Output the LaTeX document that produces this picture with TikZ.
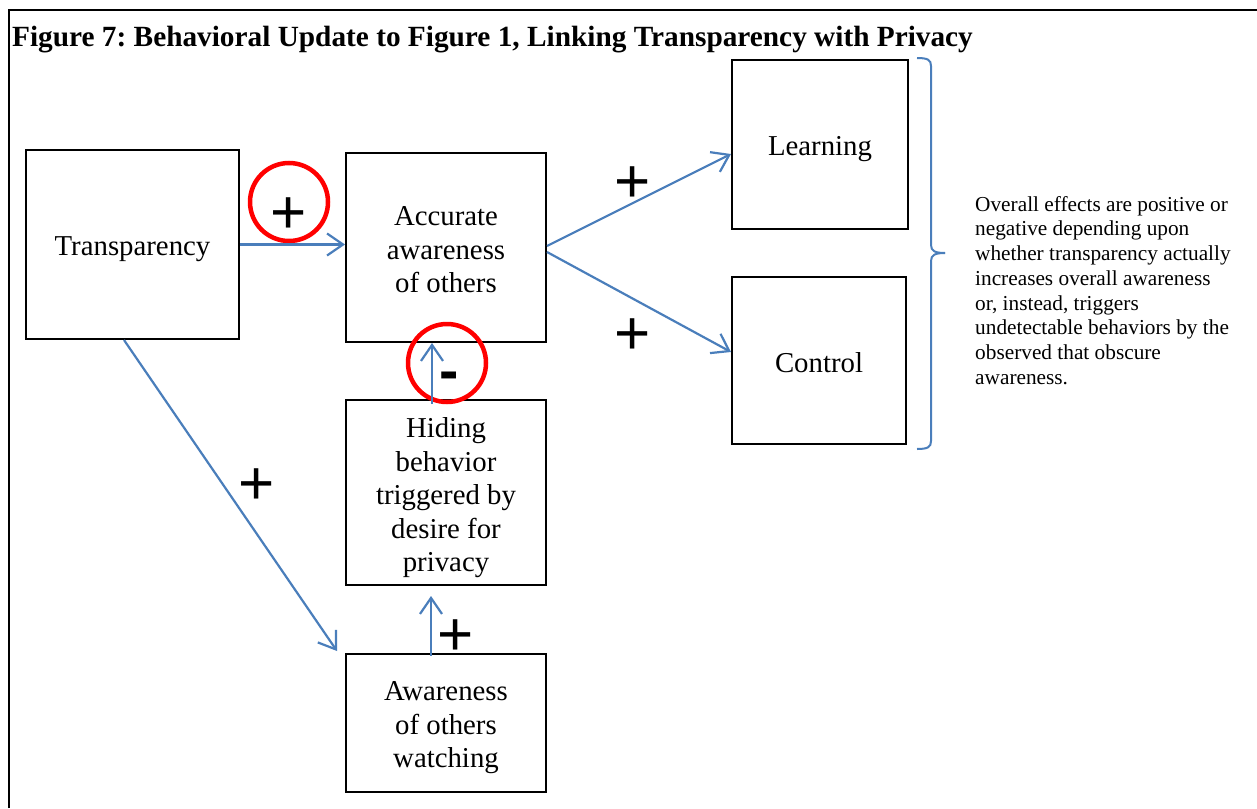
\documentclass[tikz,border=0pt]{standalone}
\usepackage{fontspec}
\setmainfont{Liberation Serif}
\newfontfamily\signfont{Liberation Sans}
\usetikzlibrary{arrows.meta}
\definecolor{linkblue}{RGB}{74,126,187}
\definecolor{ringred}{RGB}{255,0,0}
\frenchspacing
\begin{document}
\begin{tikzpicture}[x=1pt,y=-1pt,
  box/.style={draw=black,line width=2pt,inner sep=0pt},
  boxtext/.style={align=center,inner sep=0pt,font=\fontsize{28.8}{33.5}\selectfont},
  link/.style={draw=linkblue,line width=2.2pt,-{Straight Barb[length=16pt,width=22pt,line width=2.2pt]}},
  sign/.style={font=\signfont\fontsize{62}{62}\selectfont,inner sep=0pt},
  minussign/.style={font=\signfont\bfseries\fontsize{58}{58}\selectfont,inner sep=0pt},
  ring/.style={draw=ringred,line width=4.5pt,circle,minimum size=78pt,inner sep=0pt},
  bracepath/.style={draw=linkblue,line width=2pt}]
\useasboundingbox (0,0) rectangle (1257,808);
\draw[line width=1.5pt] (9,808) -- (9,10) -- (1257,10);
\node[anchor=base west,inner sep=0pt,font=\fontsize{29.3}{32}\selectfont\bfseries\frenchspacing] (title) at (12,47) {Figure 7: Behavioral Update to Figure 1, Linking Transparency with Privacy};
\node[box,minimum width=213pt,minimum height=189pt] (trans) at (132.5,244.5) {};
\node[box,minimum width=200pt,minimum height=189pt] (acc) at (446,247.5) {};
\node[box,minimum width=176pt,minimum height=169pt] (learn) at (820,144.5) {};
\node[box,minimum width=174pt,minimum height=167pt] (ctrl) at (819,360.5) {};
\node[box,minimum width=200pt,minimum height=185pt] (hide) at (446,492.5) {};
\node[box,minimum width=200pt,minimum height=138pt] (watch) at (446,723) {};
\node[boxtext] (transT) at ([yshift=-5pt]trans.center) {Transparency};
\node[boxtext] (accT) at ([yshift=-2.5pt]acc.center) {Accurate\\awareness\\of others};
\node[boxtext] (learnT) at ([yshift=-5pt]learn.center) {Learning};
\node[boxtext] (ctrlT) at ([yshift=-2pt]ctrl.center) {Control};
\node[boxtext] (hideT) at ([yshift=-5.5pt]hide.center) {Hiding\\behavior\\triggered by\\desire for\\privacy};
\node[boxtext] (watchT) at ([yshift=-5pt]watch.center) {Awareness\\of others\\watching};
\node[ring] (ringA) at (289,202) {};
\node[ring] (ringB) at (447,363) {};
\node[sign] (pA) at (289,216) {+};
\node[minussign] (mB) at (449,381) {-};
\node[sign] (pL) at (633,185) {+};
\node[sign] (pC) at (633,337) {+};
\node[sign] (pT) at (257,487) {+};
\node[sign] (pW) at (456,638) {+};
\draw[link] (trans.east) -- (trans.east -| acc.west);
\draw[link] ([yshift=1.5pt]acc.east) -- ([yshift=-9.5pt]learn.west);
\draw[link] ([yshift=-4.5pt]acc.east) -- ([yshift=8.5pt]ctrl.west);
\draw[link] ([xshift=-14pt,yshift=-5pt]hide.north) -- ([xshift=-14pt]acc.south);
\draw[link] ([xshift=-15pt,yshift=-3pt]watch.north) -- ([xshift=-15pt,yshift=-10pt]hide.south);
\coordinate (tipW) at ([xshift=-8pt,yshift=2pt]watch.north west);
\draw[link] ([xshift=-8.5pt]trans.south) -- (tipW);
\draw[bracepath] (917,58) .. controls (928,58) and (931,60) .. (931,66) -- (931,245) .. controls (931,251) and (935,253) .. (945,253);
\draw[bracepath] (945,253) .. controls (935,253) and (931,255) .. (931,261) -- (931,441) .. controls (931,447) and (928,449) .. (917,449);
\node[anchor=north west,inner sep=0pt,align=left,font=\fontsize{21.3}{24.7}\selectfont] (note) at (975,196) {Overall effects are positive or\\negative depending upon\\whether transparency actually\\increases overall awareness\\or, instead, triggers\\undetectable behaviors by the\\observed that obscure\\awareness.};
\end{tikzpicture}
\end{document}
